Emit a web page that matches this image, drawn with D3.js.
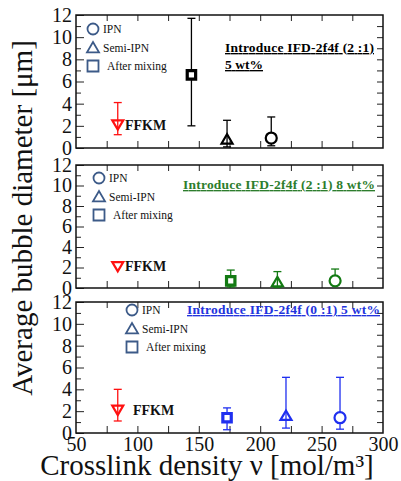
<!DOCTYPE html>
<head>
    <meta charset="utf-8">
    <title>Bubble diameter vs crosslink density</title>
</head>
<body style="margin:0; background:#fff">
<script src="https://d3js.org/d3.v7.min.js"></script>
<script>

    // series order: FFKM, After mixing, Semi-IPN, IPN
    var seriesNames = ['FFKM', 'After mixing', 'Semi-IPN', 'IPN'];
    var seriesShapes = ['down', 'square', 'up', 'circle'];

    // panel 1 : IFD-2f4f (2:1) 5 wt%
    var p1Density = [84, 144, 173, 209];
    var p1Diameter = [2.1, 6.6, 0.8, 0.9];
    var p1Low = [1.2, 2.0, 0.1, 0.2];
    var p1High = [4.1, 11.7, 2.5, 2.8];

    // panel 2 : IFD-2f4f (2:1) 8 wt%
    var p2Density = [84, 176, 214, 261];
    var p2Diameter = [2.1, 0.7, 0.6, 0.7];
    var p2Low = [null, 0.1, 0.05, 0.3];
    var p2High = [null, 1.75, 1.6, 1.85];

    // panel 3 : IFD-2f4f (0:1) 5 wt%
    var p3Density = [84, 173, 221, 265];
    var p3Diameter = [2.1, 1.4, 1.6, 1.4];
    var p3Low = [1.1, 0.3, 0.45, 0.35];
    var p3High = [4.0, 2.3, 5.1, 5.1];

    var panelTitles = [['Introduce IFD-2f4f (2 :1)', '5 wt%'], ['Introduce IFD-2f4f (2 :1) 8 wt%'], ['Introduce IFD-2f4f (0 :1) 5 wt%']];
    var yTicks = [0, 2, 4, 6, 8, 10, 12];
    var xTicks = [50, 100, 150, 200, 250, 300];

    var width = 401, height = 481;
    var left = 76, right = 383;
    var panels = [
        { top: 15, bottom: 148, color: '#000', title: '#000', x: p1Density, y: p1Diameter, lo: p1Low, hi: p1High,
          legend: [93, 29], ffkm: 125, titlePos: [225, 52], titleLen: [149, 38] },
        { top: 165, bottom: 288, color: '#137a13', title: '#2d7d2d', x: p2Density, y: p2Diameter, lo: p2Low, hi: p2High,
          legend: [99, 178], ffkm: 125, titlePos: [183, 189], titleLen: [192] },
        { top: 302, bottom: 433, color: '#1f2ff0', title: '#2233dd', x: p3Density, y: p3Diameter, lo: p3Low, hi: p3High,
          legend: [132, 310], ffkm: 133, titlePos: [187, 314], titleLen: [193] }
    ];

    var x = d3.scaleLinear().domain([50, 300]).range([left, right]);
    var red = '#ff1010';
    var legendColor = '#3c5a88';
    var serif = '"Liberation Serif", serif';

    var svg = d3.select('body').append('svg')
        .attr('width', width)
        .attr('height', height);

    svg.append('rect').attr('width', width).attr('height', height).attr('fill', '#fff');

    function symbolPath(shape, cx, cy, s) {
        if (shape === 'down') return 'M' + (cx - s) + ',' + (cy - s * 0.8) + 'L' + (cx + s) + ',' + (cy - s * 0.8) + 'L' + cx + ',' + (cy + s * 0.9) + 'Z';
        if (shape === 'up') return 'M' + (cx - s) + ',' + (cy + s * 0.8) + 'L' + (cx + s) + ',' + (cy + s * 0.8) + 'L' + cx + ',' + (cy - s * 0.9) + 'Z';
        if (shape === 'square') return 'M' + (cx - s) + ',' + (cy - s) + 'h' + (2 * s) + 'v' + (2 * s) + 'h' + (-2 * s) + 'Z';
        return null;
    }

    panels.forEach(function (p, pi) {
        var y = d3.scaleLinear().domain([0, 12]).range([p.bottom, p.top]);
        var g = svg.append('g');

        // axes (ticks inside on all four sides)
        var yMajor = d3.axisLeft(y).tickValues(yTicks).tickSize(-8).tickPadding(4);
        var yMinor = d3.axisLeft(y).tickValues([1, 3, 5, 7, 9, 11]).tickSize(-5).tickFormat('');
        var yRight = d3.axisRight(y).tickValues(d3.range(1, 12)).tickSize(-6).tickFormat('');
        var xTop = d3.axisTop(x).tickValues(d3.range(75, 300, 25)).tickSize(-6).tickFormat('');
        var xBottom = d3.axisBottom(x).tickValues(d3.range(75, 300, 25)).tickSize(-7).tickFormat('');

        g.append('g').attr('class', 'y axis').attr('transform', 'translate(' + left + ',0)').call(yMajor);
        g.append('g').attr('transform', 'translate(' + left + ',0)').call(yMinor);
        g.append('g').attr('transform', 'translate(' + right + ',0)').call(yRight);
        g.append('g').attr('transform', 'translate(0,' + p.top + ')').call(xTop);
        g.append('g').attr('transform', 'translate(0,' + p.bottom + ')').call(xBottom);

        if (pi === 2) {
            g.append('g').attr('class', 'x axis')
                .attr('transform', 'translate(0,' + p.bottom + ')')
                .call(d3.axisBottom(x).tickValues(xTicks).tickSize(0).tickPadding(4));
        }

        g.selectAll('.domain').remove();
        g.selectAll('.tick line').attr('stroke', '#222').attr('stroke-width', 1);
        g.selectAll('.tick text').attr('font-size', 20).attr('fill', '#111');

        g.append('rect')
            .attr('x', left).attr('y', p.top)
            .attr('width', right - left).attr('height', p.bottom - p.top)
            .attr('fill', 'none').attr('stroke', '#111').attr('stroke-width', 1.5);

        // legend
        var lx = p.legend[0], ly = p.legend[1];
        var legendItems = [['circle', 'IPN', 10], ['up', 'Semi-IPN', 10], ['square', 'After mixing', 14]];
        legendItems.forEach(function (item, i) {
            var cy = ly + i * 18.5;
            if (item[0] === 'circle') {
                g.append('circle').attr('cx', lx).attr('cy', cy).attr('r', 5.5)
                    .attr('fill', 'none').attr('stroke', legendColor).attr('stroke-width', 1.8);
            } else {
                g.append('path').attr('d', symbolPath(item[0], lx, cy, item[0] === 'square' ? 5.5 : 6))
                    .attr('fill', 'none').attr('stroke', legendColor).attr('stroke-width', 1.8);
            }
            g.append('text').attr('x', lx + item[2]).attr('y', cy + 4)
                .attr('font-size', 11.5).attr('fill', '#111').text(item[1]);
        });

        // error bars
        p.x.forEach(function (d, i) {
            if (p.lo[i] == null) return;
            var col = i === 0 ? red : p.color;
            var cx = x(d);
            g.append('line').attr('x1', cx).attr('x2', cx)
                .attr('y1', y(p.lo[i])).attr('y2', y(p.hi[i]))
                .attr('stroke', col).attr('stroke-width', 1.3);
            [p.lo[i], p.hi[i]].forEach(function (v) {
                g.append('line').attr('x1', cx - 4).attr('x2', cx + 4)
                    .attr('y1', y(v)).attr('y2', y(v))
                    .attr('stroke', col).attr('stroke-width', 1.3);
            });
        });

        // markers
        p.x.forEach(function (d, i) {
            var col = i === 0 ? red : p.color;
            var cx = x(d), cy = y(p.y[i]);
            var shape = seriesShapes[i];
            if (shape === 'circle') {
                g.append('circle').attr('cx', cx).attr('cy', cy).attr('r', 5.5)
                    .attr('fill', '#fff').attr('stroke', col).attr('stroke-width', 2.2);
            } else if (shape === 'square') {
                g.append('path').attr('d', symbolPath(shape, cx, cy, 4.2))
                    .attr('fill', '#fff').attr('stroke', col).attr('stroke-width', 3.2);
            } else {
                g.append('path').attr('d', symbolPath(shape, cx, cy, 5.5))
                    .attr('fill', 'none').attr('stroke', col).attr('stroke-width', 2.2);
            }
        });

        // FFKM label
        g.append('text').attr('x', p.ffkm).attr('y', y(p.y[0]) + 5)
            .attr('font-size', 14).attr('font-weight', 'bold').attr('fill', '#111')
            .text('FFKM');

        // panel title (underlined)
        panelTitles[pi].forEach(function (line, li) {
            g.append('text').attr('x', p.titlePos[0]).attr('y', p.titlePos[1] + li * 17)
                .attr('font-size', 13.5).attr('font-weight', 'bold')
                .attr('fill', p.title)
                .attr('text-decoration', 'underline')
                .attr('textLength', p.titleLen[li])
                .attr('lengthAdjust', 'spacing')
                .text(line);
        });
    });

    // axis titles
    svg.append('text')
        .attr('transform', 'translate(32,218) rotate(-90)')
        .attr('text-anchor', 'middle')
        .attr('font-size', 29)
        .attr('fill', '#111')
        .text('Average bubble diameter [μm]');

    svg.append('text')
        .attr('x', 207).attr('y', 475)
        .attr('text-anchor', 'middle')
        .attr('font-size', 29)
        .attr('fill', '#111')
        .text('Crosslink density ν [mol/m³]');

    // every text in serif
    svg.selectAll('text').style('font-family', serif);

</script>
</body>
